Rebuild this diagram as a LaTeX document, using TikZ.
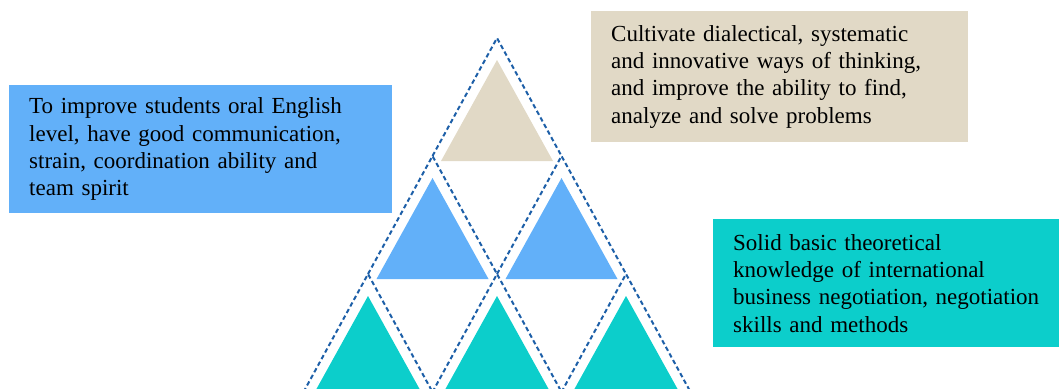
\documentclass[tikz,border=0pt]{standalone}
\usepackage{fontspec}
\setmainfont{Liberation Serif}
\definecolor{oralblue}{HTML}{62B0F9}
\definecolor{thinkbeige}{HTML}{E1D9C6}
\definecolor{basecyan}{HTML}{0CCECB}
\definecolor{dashblue}{HTML}{1D5FA8}
\begin{document}
\begin{tikzpicture}[x=1pt, y=-1pt, line join=round, font=\fontsize{23}{27.3}\selectfont,
	cellline/.style={dashblue, line width=2pt, dash pattern=on 4.5pt off 3pt},
	goalbox/.style={anchor=north west, align=left, inner xsep=20pt, inner ysep=0pt, text=black}]
	\def\ax{497}\def\ay{38}\def\hw{64.5}\def\rh{118}
	\useasboundingbox (0,0) rectangle (1059,388);
	\clip (0,0) rectangle (1059,388);
	% one filled triangle per upward cell, then its two dashed sides
	\foreach \r/\col in {1/thinkbeige,2/oralblue,3/basecyan}
	\foreach \i in {1,...,\r} {
		\pgfmathsetmacro\cx{\ax+(2*\i-\r-1)*\hw}
		\pgfmathsetmacro\ty{\ay+(\r-1)*\rh}
		\fill[\col] (\cx,\ty+22) -- (\cx+56,\ty+\rh+5) -- (\cx-56,\ty+\rh+5) -- cycle;
		\draw[cellline] (\cx-\hw,\ty+\rh) -- (\cx,\ty) -- (\cx+\hw,\ty+\rh);
	}
	% the three goals
	\node[goalbox, fill=oralblue, text width=343pt, minimum height=128pt] (oral) at (9,85)
		{To improve students oral English\\level, have good communication,\\strain, coordination ability and\\team spirit};
	\node[goalbox, fill=thinkbeige, text width=337pt, minimum height=131pt] (think) at (591,11)
		{Cultivate dialectical, systematic\\and innovative ways of thinking,\\and improve the ability to find,\\analyze and solve problems};
	\node[goalbox, fill=basecyan, text width=310pt, minimum height=128pt] (base) at (713,219)
		{Solid basic theoretical\\knowledge of international\\business negotiation, negotiation\\skills and methods};
\end{tikzpicture}
\end{document}
